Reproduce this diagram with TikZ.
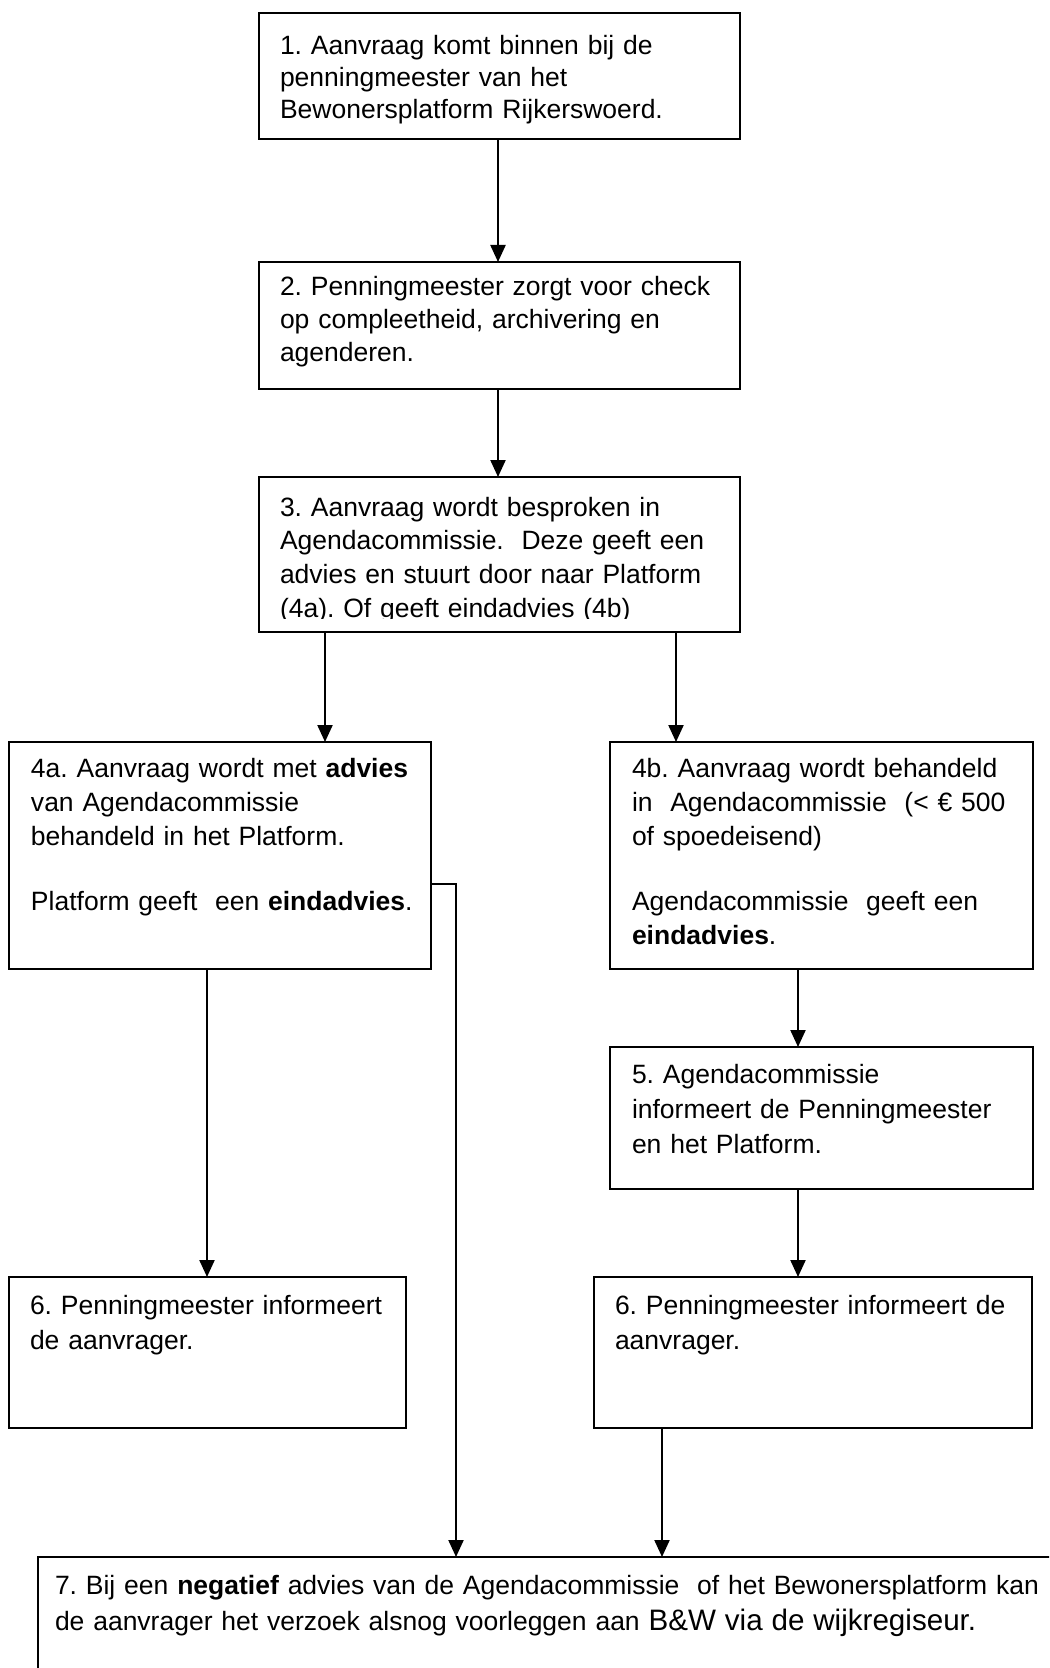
\documentclass[tikz,border=0pt]{standalone}
\usepackage{fontspec}
\setmainfont{Liberation Sans}
\usetikzlibrary{arrows.meta,calc}
\begin{document}
\begin{tikzpicture}[x=0.5pt,y=-0.5pt,
  box/.style={draw, line width=0.9pt, rectangle, inner sep=0pt, outer sep=0pt, anchor=north west},
  txt/.style={anchor=base west, inner sep=0pt, outer sep=0pt, text width=300pt, align=left,
    font=\fontsize{13.25pt}{16pt}\selectfont\frenchspacing},
  txtm/.style={txt, font=\fontsize{13.25pt}{16.5pt}\selectfont\frenchspacing},
  txtn/.style={txt, font=\fontsize{13.25pt}{16.85pt}\selectfont\frenchspacing},
  txtb/.style={txt, font=\fontsize{13.25pt}{17pt}\selectfont\frenchspacing},
  txtc/.style={txt, font=\fontsize{13.25pt}{17.5pt}\selectfont\frenchspacing},
  txtd/.style={txt, text width=520pt, font=\fontsize{13.25pt}{18pt}\selectfont\frenchspacing},
  arr/.style={line width=1.1pt, -{Triangle[width=7.5pt,length=8.5pt]}}]
\useasboundingbox (0,0) rectangle (1049,1668);
\clip (0,0) rectangle (1049,1668);
\fill[white] (0,0) rectangle (1049,1668);

% boxes
\node[box, minimum width=240.5pt, minimum height=63pt]   (b1)  at (259,13)   {};
\node[box, minimum width=240.5pt, minimum height=63.5pt] (b2)  at (259,262)  {};
\node[box, minimum width=240.5pt, minimum height=77.5pt] (b3)  at (259,477)  {};
\node[box, minimum width=211pt,   minimum height=113.5pt] (b4a) at (9,742)   {};
\node[box, minimum width=211.5pt, minimum height=113.5pt] (b4b) at (610,742) {};
\node[box, minimum width=211.5pt, minimum height=71pt]   (b5)  at (610,1047) {};
\node[box, minimum width=198.5pt, minimum height=75.5pt] (b6a) at (9,1277)   {};
\node[box, minimum width=219pt,   minimum height=75.5pt] (b6b) at (594,1277) {};
\node[box, minimum width=600pt,   minimum height=100pt]  (b7)  at (38,1557)  {};

% texts
\node[txt] (t1) at (280,55) {1. Aanvraag komt binnen bij de\\ penningmeester van het\\ Bewonersplatform Rijkerswoerd.};
\node[txtm] (t2) at (280,296) {2. Penningmeester zorgt voor check\\ op compleetheid, archivering en\\ agenderen.};
\begin{scope}
\clip (b3.north west) rectangle ($(b3.south east)+(0,-14)$);
\node[txtn] (t3) at (280,516) {3. Aanvraag wordt besproken in\\ Agendacommissie.\ \ Deze geeft een\\ advies en stuurt door naar Platform\\ (4a). Of geeft eindadvies (4b)};
\end{scope}
\node[txtb] (t4a) at (31,777) {4a. Aanvraag wordt met \textbf{advies}\\ van Agendacommissie\\ behandeld in het Platform.\\[15.5pt] Platform geeft\ \ een \textbf{eindadvies}.};
\node[txtb] (t4b) at (632,777) {4b. Aanvraag wordt behandeld\\ in\ \ Agendacommissie\ \ (<~€~500\\ of spoedeisend)\\[15.5pt] Agendacommissie\ \ geeft een\\ \textbf{eindadvies}.};
\node[txtc] (t5) at (632,1083) {5. Agendacommissie\\ informeert de Penningmeester\\ en het Platform.};
\node[txtc] (t6a) at (30,1314) {6. Penningmeester informeert\\ de aanvrager.};
\node[txtc] (t6b) at (615,1314) {6. Penningmeester informeert de\\ aanvrager.};
\node[txtd] (t7) at (55,1594) {7. Bij een \textbf{negatief} advies van de Agendacommissie\ \ of het Bewonersplatform kan\\ de aanvrager het verzoek alsnog voorleggen aan {\fontsize{14.8pt}{18pt}\selectfont B\&W via de wijkregiseur.}};

% connectors
\coordinate (a12) at ($(b1.south west)+(239,0)$);
\draw[arr] (a12) -- (a12 |- b2.north);
\coordinate (a23) at ($(b2.south west)+(239,0)$);
\draw[arr] (a23) -- (a23 |- b3.north);
\coordinate (a34a) at ($(b3.south west)+(66,0)$);
\draw[arr] (a34a) -- (a34a |- b4a.north);
\coordinate (a34b) at ($(b3.south west)+(417,0)$);
\draw[arr] (a34b) -- (a34b |- b4b.north);
\coordinate (a4a6) at ($(b4a.south west)+(198,0)$);
\draw[arr] (a4a6) -- (a4a6 |- b6a.north);
\coordinate (k1) at ($(b4a.north east)+(25,142)$);
\draw[arr] (k1 -| b4a.east) -- (k1) -- (k1 |- b7.north);
\coordinate (a4b5) at ($(b4b.south west)+(188,0)$);
\draw[arr] (a4b5) -- (a4b5 |- b5.north);
\coordinate (a56) at ($(b5.south west)+(188,0)$);
\draw[arr] (a56) -- (a56 |- b6b.north);
\coordinate (a67) at ($(b6b.south west)+(68,0)$);
\draw[arr] (a67) -- (a67 |- b7.north);
\end{tikzpicture}
\end{document}
